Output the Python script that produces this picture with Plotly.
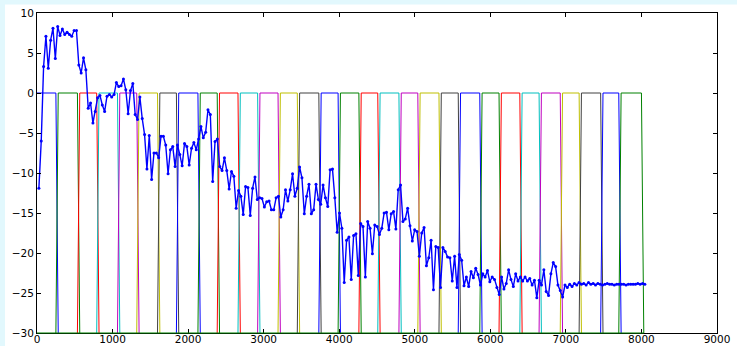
import numpy as np
import plotly.graph_objects as go

# ---- data ----
T_START, T_END = 25, 8045

signal_part1 = [
    -11.9, -6.0, 3.3, 7.1, 3.1, 6.6, 8.1, 4.3, 8.3, 7.2,
    8.0, 7.3, 7.6, 7.3, 7.1, 7.8, 7.8, 3.5, 2.5, 4.4,
    2.9, -1.9, -1.25, -3.75, -2.3, -0.6, -0.3, -1.5, -2.3, -0.4,
    -0.2, -0.5, -0.2, 1.3, 0.8, 0.9, 1.75, 0.4, -2.6, 0.3,
    1.2, -2.7, -3.3, -0.5, -3.2, -5.2, -9.5, -5.3, -10.8, -7.5,
    -7.5, -8.1, -5.4, -5.4, -6.5, -10.1, -7.1, -6.7, -9.2, -6.5,
    -7.7, -9.1, -6.3,
]
signal_part2 = [
    -6.7, -9.0, -6.9, -6.2, -7.1, -5.75, -4.2, -5.6, -4.9, -2.1,
    -2.7, -11.05, -6.05, -5.75, -9.2, -9.7, -8.1, -9.7, -12.0, -9.8,
    -10.4, -14.4, -12.2, -12.9, -15.2, -11.7, -11.8, -15.3, -11.9, -10.5,
    -13.3, -13.1, -13.2, -14.25, -13.6, -13.5, -14.6, -14.6, -13.1, -12.9,
    -15.5, -14.6, -12.1, -13.5, -12.1, -10.1, -12.9, -11.9, -9.25, -10.6,
    -15.1, -12.9, -11.4, -15.1, -14.6, -11.4, -13.3, -13.9, -11.5, -13.1,
    -14.2, -9.6, -9.5, -13.1, -17.4,
]
signal_part3 = [
    -15.0, -16.9, -23.7, -18.4, -18.0, -23.3, -17.8, -17.6, -22.8, -16.3,
    -16.7, -23.0, -16.05, -16.9, -20.1, -16.5, -16.7, -17.7, -16.9, -15.0,
    -14.9, -17.1, -15.1, -14.8, -17.0, -12.1, -11.5, -16.05, -15.75, -14.4,
    -16.6, -18.5, -17.1, -17.3, -20.4, -17.5, -16.8, -21.6, -20.6, -18.4,
    -24.6, -19.2, -19.3, -24.3, -19.3, -19.8, -20.5, -20.6, -23.5, -20.4,
    -24.3, -20.2, -20.9, -24.1, -23.0, -24.2, -22.3, -23.1, -21.9, -22.7,
    -24.0, -22.6, -23.0,
]
signal_part4 = [
    -22.2, -23.6, -23.0, -23.3, -24.3, -25.2, -23.0, -24.5, -23.8, -22.1,
    -23.3, -24.2, -22.6, -23.5, -23.0, -23.5, -23.0, -23.5, -23.2, -24.0,
    -23.4, -25.6, -23.4, -24.0, -22.1, -24.8, -25.3, -22.6, -21.2, -21.7,
    -24.0, -24.7, -25.5, -24.0, -24.3, -23.9, -24.2, -23.8, -24.0, -23.7,
    -23.9, -23.8, -24.0, -23.7, -23.9, -23.8, -24.0, -23.8, -23.9, -24.0,
    -23.9, -23.8, -23.9, -23.9, -24.0, -23.9, -23.9, -23.9, -23.9, -24.0,
    -23.9, -23.9, -23.9, -23.9, -23.8, -23.9, -23.8, -23.9,
]

# segment boundaries (start of each window), last value = end of final window
segment_bounds = [0, 250, 535, 790, 1065, 1320, 1595, 1845, 2130, 2385, 2660,
                  2920, 3190, 3445, 3730, 3985, 4260, 4510, 4790, 5040, 5320,
                  5575, 5860, 6115, 6390, 6645, 6925, 7175, 7460, 7700, 8000]
PULSE_HIGH, PULSE_LOW = 0, -30
EDGE_DT = 31  # one sample step

x_ticks = [0, 1000, 2000, 3000, 4000, 5000, 6000, 7000, 8000, 9000]
y_ticks = [-30, -25, -20, -15, -10, -5, 0, 5, 10]

color_order = ['#0000FF', '#008000', '#FF0000', '#00BFBF', '#BF00BF', '#BFBF00', '#404040']

# ---- figure ----
signal = signal_part1 + signal_part2 + signal_part3 + signal_part4
t = np.linspace(T_START, T_END, len(signal))

fig = go.Figure()

for k in range(len(segment_bounds) - 1):
    b0, b1 = segment_bounds[k], segment_bounds[k + 1]
    if k == 0:
        xs = [b0, b1, b1 + EDGE_DT]
        ys = [PULSE_HIGH, PULSE_HIGH, PULSE_LOW]
    else:
        xs = [b0, b0 + EDGE_DT, b1, b1 + EDGE_DT]
        ys = [PULSE_LOW, PULSE_HIGH, PULSE_HIGH, PULSE_LOW]
    fig.add_trace(go.Scatter(x=xs, y=ys, mode='lines',
                             line=dict(color=color_order[k % 7], width=1),
                             hoverinfo='skip', showlegend=False))

fig.add_trace(go.Scatter(x=t, y=signal, mode='lines+markers',
                         line=dict(color='#0000FF', width=1.4),
                         marker=dict(color='#0000FF', size=3),
                         showlegend=False))

last_color = color_order[(len(segment_bounds) - 2) % 7]

W, H = 737, 346
ML, MR, MT, MB = 37, 20, 13, 13
pw, ph = W - ML - MR, H - MT - MB


def px_x(p):
    return (p - ML) / pw


def px_y(p):
    return (H - MB - p) / ph


PAGE_BG = '#E2F8FD'
shapes = [
    # page background strips visible around the figure (top and left)
    dict(type='rect', xref='paper', yref='paper', x0=px_x(0), x1=px_x(W),
         y0=px_y(4.5), y1=px_y(0), fillcolor=PAGE_BG, line=dict(width=0), layer='below'),
    dict(type='rect', xref='paper', yref='paper', x0=px_x(0), x1=px_x(5),
         y0=px_y(H), y1=px_y(0), fillcolor=PAGE_BG, line=dict(width=0), layer='below'),
    # baseline of the last pulse trace drawn over the bottom axis
    dict(type='line', xref='x', yref='paper', x0=0, x1=segment_bounds[-1] + EDGE_DT,
         y0=0, y1=0, line=dict(color=last_color, width=1), layer='above'),
]

axis_common = dict(showline=True, linecolor='black', linewidth=1, mirror='ticks',
                   ticks='inside', ticklen=4, tickcolor='black', tickwidth=1,
                   showgrid=False, zeroline=False, automargin=False,
                   tickfont=dict(family='DejaVu Sans', size=10.5, color='black'))

fig.update_layout(
    width=W, height=H,
    margin=dict(l=ML, r=MR, t=MT, b=MB, pad=0, autoexpand=False),
    paper_bgcolor='white', plot_bgcolor='white',
    xaxis=dict(range=[0, 9000], tickvals=x_ticks, ticklabelstandoff=-4, **axis_common),
    yaxis=dict(range=[-30, 10], tickvals=y_ticks, **axis_common),
    shapes=shapes,
)

# remove the browser's default 8px body margin so the figure fills the window exactly
fig.write_html("out.html", config={'displayModeBar': False},
               post_script="document.body.style.margin='0';")
